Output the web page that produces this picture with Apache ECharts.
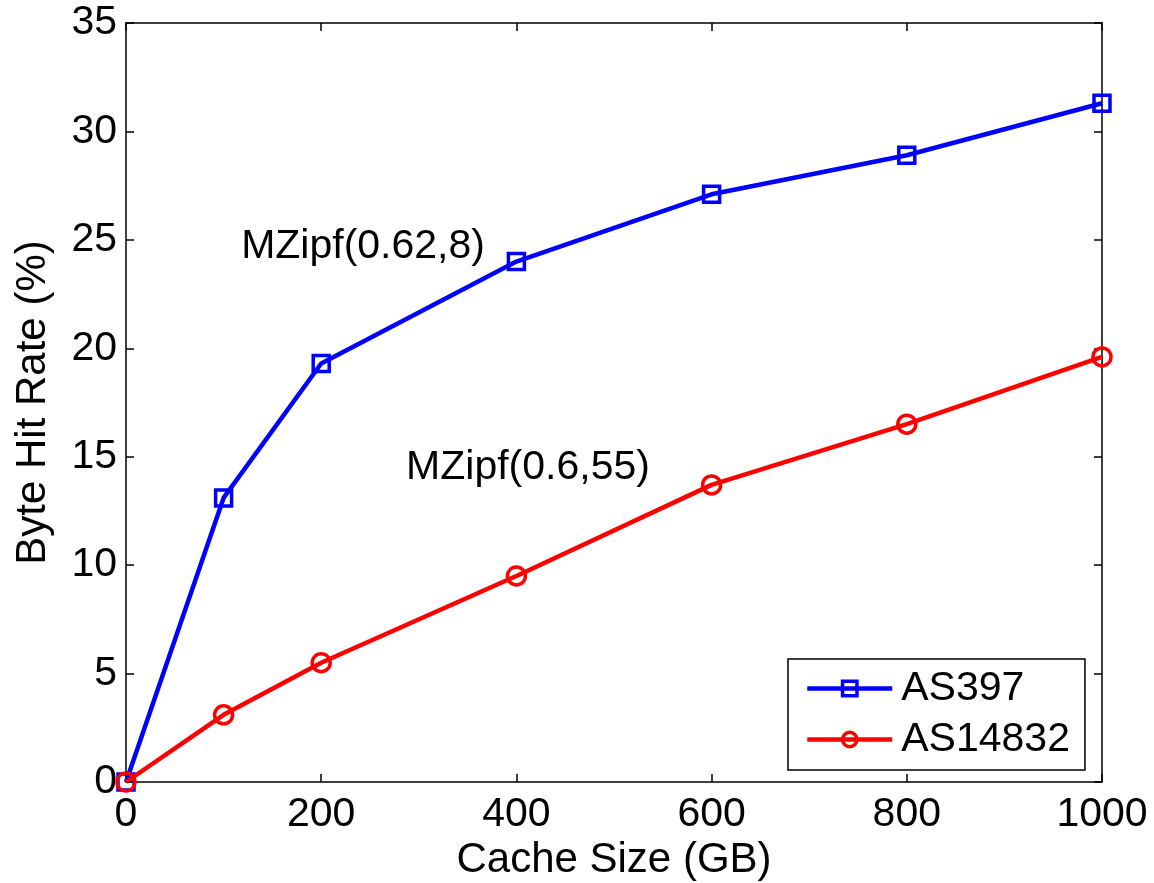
<!DOCTYPE html>
<html>
<head>
<meta charset="utf-8">
<script src="https://cdn.jsdelivr.net/npm/echarts@6/dist/echarts.min.js"></script>
<style>
html,body{margin:0;padding:0;background:#fff;}
#chart{width:1154px;height:883px;}
</style>
</head>
<body>
<div id="chart"></div>
<script>
const cacheSizes = [0, 100, 200, 400, 600, 800, 1000];
const as397 = [0, 13.1, 19.3, 24.0, 27.1, 28.9, 31.3];
const as14832 = [0, 3.1, 5.5, 9.5, 13.7, 16.5, 19.6];
const seriesNames = ['AS397', 'AS14832'];
const annotations = [
  {text: 'MZipf(0.62,8)', x: 118, y: 24.7},
  {text: 'MZipf(0.6,55)', x: 287, y: 14.5}
];

const FONT = 'Liberation Sans, Arial, Helvetica, sans-serif';
const FS = 41;
const FSN = 42;
const chart = echarts.init(document.getElementById('chart'));

function pairs(xs, ys){ return xs.map((x,i)=>[x, ys[i]]); }

const axisBase = {
  axisLine: {show: true, onZero: false, lineStyle: {color: '#000', width: 1.5}},
  axisTick: {show: true, inside: true, length: 8, lineStyle: {color: '#000', width: 1.5}},
  splitLine: {show: false}
};

chart.setOption({
  animation: false,
  backgroundColor: '#fff',
  grid: {left: 126, top: 23, width: 976, height: 759, show: false, containLabel: false, outerBoundsMode: 'none'},
  legend: {
    data: [
      {name: seriesNames[0], lineStyle: {width: 4.5, color: '#0000ff'}, itemStyle: {color: 'transparent', borderColor: '#0000ff', borderWidth: 3.5}},
      {name: seriesNames[1], lineStyle: {width: 4.5, color: '#ff0000'}, itemStyle: {color: 'transparent', borderColor: '#ff0000', borderWidth: 3.5}}
    ],
    orient: 'vertical',
    left: 788, top: 659,
    padding: [9, 15, 10, 17],
    itemGap: 10,
    itemWidth: 85,
    itemHeight: 18,
    backgroundColor: '#fff',
    borderColor: '#000',
    borderWidth: 1.5,
    borderRadius: 0,
    textStyle: {fontFamily: FONT, fontSize: FS, color: '#000', lineHeight: 40, padding: [0,0,0,4]}
  },
  xAxis: [
    Object.assign({}, axisBase, {
      type: 'value', min: 0, max: 1000, interval: 200, position: 'bottom',
      name: 'Cache Size (GB)', nameLocation: 'middle', nameGap: 44,
      nameTextStyle: {fontFamily: FONT, fontSize: FSN, color: '#000'},
      axisLabel: {fontFamily: FONT, fontSize: FS, color: '#000', margin: 12, formatter: v => String(v)}
    }),
    Object.assign({}, axisBase, {
      type: 'value', min: 0, max: 1000, interval: 200, position: 'top',
      axisLabel: {show: false}
    })
  ],
  yAxis: [
    Object.assign({}, axisBase, {
      type: 'value', min: 0, max: 35, interval: 5, position: 'left',
      name: 'Byte Hit Rate (%)', nameLocation: 'middle', nameGap: 72,
      nameTextStyle: {fontFamily: FONT, fontSize: FSN, color: '#000'},
      axisLabel: {fontFamily: FONT, fontSize: FS, color: '#000', margin: 9}
    }),
    Object.assign({}, axisBase, {
      type: 'value', min: 0, max: 35, interval: 5, position: 'right',
      axisLabel: {show: false}
    })
  ],
  series: [
    {
      name: seriesNames[0], type: 'line', data: pairs(cacheSizes, as397),
      clip: false, symbol: 'rect', symbolSize: 16,
      lineStyle: {color: '#0000ff', width: 4.5},
      itemStyle: {color: 'transparent', borderColor: '#0000ff', borderWidth: 3.5},
      z: 3
    },
    {
      name: seriesNames[1], type: 'line', data: pairs(cacheSizes, as14832),
      clip: false, symbol: 'circle', symbolSize: 18,
      lineStyle: {color: '#ff0000', width: 4.5},
      itemStyle: {color: 'transparent', borderColor: '#ff0000', borderWidth: 3.5},
      z: 4
    },
    {
      name: 'annotations', type: 'scatter', symbolSize: 0, silent: true,
      itemStyle: {opacity: 1},
      data: annotations.map(a => ({value: [a.x, a.y], label: {formatter: a.text}})),
      label: {show: true, position: 'right', distance: 0, fontFamily: FONT, fontSize: FS, color: '#000', opacity: 1}
    }
  ]
});
</script>
</body>
</html>
